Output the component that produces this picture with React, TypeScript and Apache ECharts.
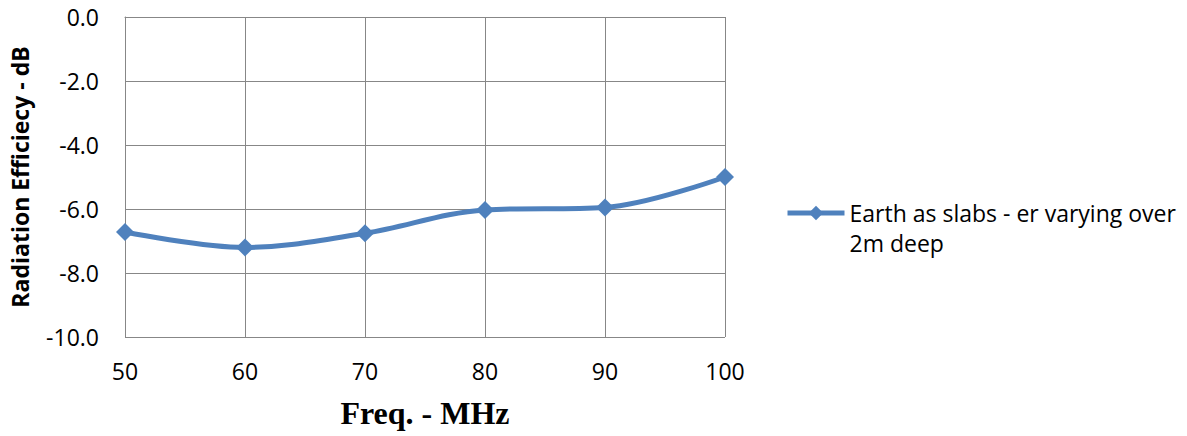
import React, { useEffect, useRef } from "react";
import * as echarts from "echarts";

const freqs = [50, 60, 70, 80, 90, 100];
const efficiency = [-6.72, -7.2, -6.76, -6.03, -5.95, -5.0];
const seriesName = "Earth as slabs - er varying over 2m deep";
const legendLines = ["Earth as slabs - er varying over", "2m deep"];

export default function App() {
  const ref = useRef<HTMLDivElement>(null);
  useEffect(() => {
    const chart = echarts.init(ref.current!, null, { renderer: "svg" });
    chart.setOption({
      animation: false,
      backgroundColor: "#ffffff",
      grid: { left: 123, right: 462, top: 17, bottom: 99 },
      xAxis: {
        type: "value",
        min: 50,
        max: 100,
        interval: 10,
        axisLine: { lineStyle: { color: "#878787", width: 1 } },
        axisTick: { show: false },
        splitLine: { show: true, lineStyle: { color: "#878787", width: 1 } },
        axisLabel: { color: "#000", fontFamily: "Open Sans", fontSize: 23, margin: 22 },
        name: "Freq. - MHz",
        nameLocation: "middle",
        nameGap: 60,
        nameTextStyle: { fontFamily: "Liberation Serif", fontWeight: "bold", fontSize: 32, color: "#000" },
      },
      yAxis: {
        type: "value",
        min: -10,
        max: 0,
        interval: 2,
        axisLine: { show: true, lineStyle: { color: "#878787", width: 1 } },
        axisTick: { show: false },
        splitLine: { show: true, lineStyle: { color: "#878787", width: 1 } },
        axisLabel: {
          color: "#000",
          fontFamily: "Open Sans",
          fontSize: 23,
          margin: 26,
          formatter: (v: number) => v.toFixed(1),
        },
        name: "Radiation Efficiecy - dB",
        nameLocation: "middle",
        nameGap: 94,
        nameTextStyle: { fontFamily: "Open Sans", fontWeight: "bold", fontSize: 23, color: "#000" },
      },
      legend: {
        left: 785,
        top: 168,
        padding: 0,
        itemWidth: 57,
        itemHeight: 18,
        itemGap: 4,
        lineStyle: { width: 5 },
        formatter: () => "\n" + legendLines.join("\n"),
        textStyle: { fontFamily: "Open Sans", fontSize: 23, color: "#000", lineHeight: 30 },
        data: [seriesName],
      },
      series: [
        {
          type: "line",
          name: seriesName,
          data: freqs.map((f, i) => [f, efficiency[i]]),
          smooth: 0.35,
          symbol: "diamond",
          symbolSize: 18,
          lineStyle: { color: "#4F81BD", width: 5 },
          itemStyle: { color: "#4F81BD" },
        },
      ],
    });
    return () => chart.dispose();
  }, []);
  return (
    <div
      ref={ref}
      style={{ position: "fixed", left: 0, top: 0, width: 1187, height: 436 }}
    />
  );
}
